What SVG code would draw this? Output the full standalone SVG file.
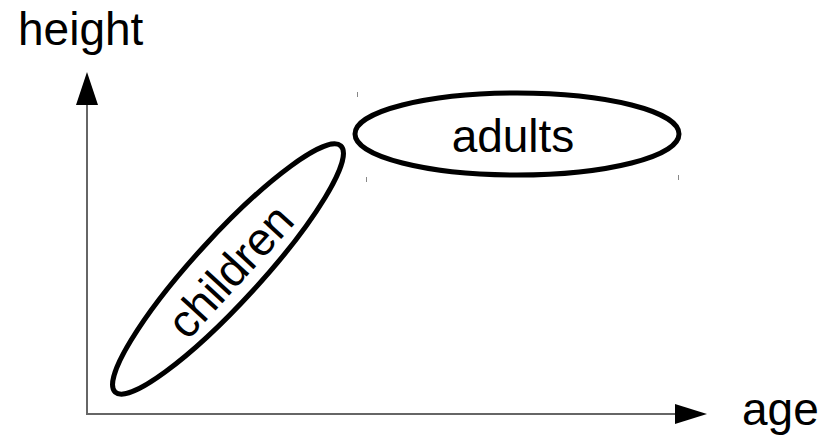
<svg xmlns="http://www.w3.org/2000/svg" width="837" height="437" viewBox="0 0 837 437">
<style>
text{font-family:"Liberation Sans",Arial,sans-serif;font-size:46px;fill:#000}
.axis{stroke:#666;stroke-width:2;fill:none}
.node{fill:#fff;stroke:#000;stroke-width:5}
.tick{stroke:#888;stroke-width:1}
</style>
<rect width="837" height="437" fill="#fff"/>
<g id="axes">
<line class="axis" x1="87" y1="414" x2="87" y2="100"/>
<line class="axis" x1="86" y1="414" x2="680" y2="414"/>
<polygon points="87,72 76,105 98,105" fill="#000"/>
<polygon points="707,414 675,404 675,424" fill="#000"/>
<text x="18" y="45">height</text>
<text x="742" y="425">age</text>
</g>
<g id="children">
<ellipse class="node" cx="228" cy="269" rx="167" ry="33" transform="rotate(-47.5 228 269)"/>
<text transform="translate(230,271) rotate(-47.5)" x="0" y="16" text-anchor="middle">children</text>
</g>
<g id="adults">
<ellipse class="node" cx="517" cy="134" rx="162" ry="41"/>
<text x="513" y="152" text-anchor="middle">adults</text>
<line class="tick" x1="357.5" y1="92" x2="357.5" y2="97"/>
<line class="tick" x1="366.5" y1="177" x2="366.5" y2="182"/>
<line class="tick" x1="678.5" y1="175" x2="678.5" y2="180"/>
</g>
</svg>
